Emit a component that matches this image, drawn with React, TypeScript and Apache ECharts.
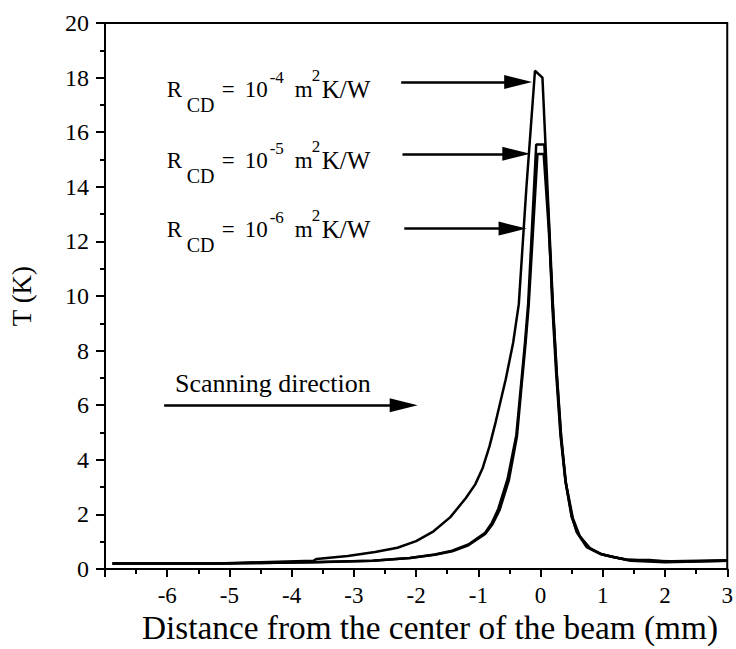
import React, { useEffect, useRef } from "react";
import * as echarts from "echarts";

const SERIF = "Liberation Serif";

// Tick labels
const xTicks = [-6, -5, -4, -3, -2, -1, 0, 1, 2, 3];
const yTicks = [0, 2, 4, 6, 8, 10, 12, 14, 16, 18, 20];

// Curve R_CD = 1e-4 m2K/W
const rcd4: number[][] = [
  [-6.88, 0.2], [-5.2, 0.2], [-4.5, 0.25], [-3.65, 0.3], [-3.6, 0.37], [-3.1, 0.48],
  [-2.66, 0.62], [-2.3, 0.78], [-2.0, 1.02], [-1.72, 1.38], [-1.45, 1.9], [-1.2, 2.6],
  [-1.05, 3.1], [-0.93, 3.7], [-0.82, 4.5], [-0.72, 5.4], [-0.56, 6.95], [-0.44, 8.3],
  [-0.35, 9.7], [-0.23, 13.9], [-0.09, 18.25], [0.03, 18.0], [0.12, 13.5], [0.2, 9.6],
  [0.26, 7.2], [0.33, 4.9], [0.4, 3.25], [0.5, 1.95], [0.58, 1.35], [0.74, 0.8],
  [0.95, 0.56], [1.2, 0.42], [1.4, 0.33], [1.75, 0.33], [2.05, 0.27], [3.0, 0.3],
];

// Curve R_CD = 1e-5 m2K/W
const rcd5: number[][] = [
  [-6.88, 0.2], [-5.2, 0.2], [-4.5, 0.22], [-3.6, 0.26], [-2.7, 0.3], [-2.1, 0.4],
  [-1.7, 0.53], [-1.42, 0.67], [-1.16, 0.9], [-0.89, 1.33], [-0.78, 1.7], [-0.68, 2.2],
  [-0.53, 3.3], [-0.39, 4.9], [-0.32, 6.6], [-0.25, 8.3], [-0.2, 9.7], [-0.07, 15.55],
  [0.06, 15.55], [0.13, 12.8], [0.19, 9.6], [0.25, 7.2], [0.32, 4.9], [0.4, 3.2],
  [0.5, 1.9], [0.6, 1.3], [0.76, 0.8], [0.97, 0.55], [1.2, 0.42], [1.38, 0.35],
  [1.7, 0.3], [2.1, 0.28], [3.0, 0.32],
];

// Curve R_CD = 1e-6 m2K/W
const rcd6: number[][] = [
  [-6.88, 0.2], [-5.2, 0.2], [-4.5, 0.22], [-3.6, 0.25], [-2.7, 0.3], [-2.1, 0.4],
  [-1.7, 0.52], [-1.42, 0.65], [-1.16, 0.87], [-0.89, 1.28], [-0.77, 1.65], [-0.66, 2.15],
  [-0.51, 3.25], [-0.38, 4.85], [-0.31, 6.6], [-0.24, 8.3], [-0.19, 9.7], [-0.05, 15.2],
  [0.05, 15.2], [0.13, 12.5], [0.2, 9.5], [0.26, 7.1], [0.33, 4.8], [0.41, 3.1],
  [0.52, 1.85], [0.63, 1.2], [0.8, 0.75], [1.0, 0.52], [1.25, 0.4], [1.45, 0.3],
  [2.0, 0.25], [3.0, 0.3],
];

// Arrow annotations (data coordinates: start, end)
const arrowLabels = ["-4", "-5", "-6"];
const arrows: number[][][] = [
  [[-2.24, 17.84], [-0.36, 17.84]],
  [[-2.22, 15.21], [-0.39, 15.21]],
  [[-2.19, 12.47], [-0.45, 12.47]],
  [[-6.05, 6.0], [-2.2, 6.0]],
];

function txt(t: string, x: number, y: number, size: number) {
  return {
    type: "text",
    x,
    y,
    silent: true,
    style: {
      text: t,
      fill: "#000",
      fontSize: size,
      fontFamily: SERIF,
      align: "left",
      verticalAlign: "middle",
    },
  };
}

function rowLabel(exp: string, x0: number, y: number) {
  return [
    txt("R", x0, y, 23),
    txt("CD", x0 + 20, y + 16, 20),
    txt("=", x0 + 55, y, 23),
    txt("10", x0 + 78, y, 23),
    txt(exp, x0 + 103, y - 11.5, 17),
    txt("m", x0 + 128, y, 23),
    txt("2", x0 + 145, y - 14, 17),
    txt("K/W", x0 + 155, y, 25),
  ];
}

export default function App() {
  const ref = useRef<HTMLDivElement>(null);
  useEffect(() => {
    document.body.style.margin = "0";
    if (!ref.current) return;
    const chart = echarts.init(ref.current, null, { renderer: "svg" });
    const rowY = [89, 160, 229];
    const graphics: any[] = [];
    arrowLabels.forEach((e, i) => graphics.push(...rowLabel(e, 166.7, rowY[i])));
    graphics.push(txt("Scanning direction", 175, 383, 26));
    graphics.push(txt("Distance from the center of the beam (mm)", 142, 627, 33.3));

    const lineStyle = { color: "#000", width: 2.5 };
    const mk = (d: number[][]) => ({
      type: "line",
      data: d,
      showSymbol: false,
      symbol: "none",
      lineStyle,
      silent: true,
    });

    chart.setOption({
      animation: false,
      backgroundColor: "#fff",
      grid: {
        left: 95,
        right: 7,
        top: 23,
        bottom: 80,
        show: true,
        borderColor: "#000",
        borderWidth: 2,
        containLabel: false,
      },
      xAxis: {
        type: "value",
        min: -7,
        max: 3,
        interval: 1,
        axisLine: { show: true, onZero: false, lineStyle: { color: "#000", width: 2 } },
        axisTick: { show: true, length: 8, lineStyle: { color: "#000", width: 2 } },
        minorTick: { show: true, splitNumber: 2, length: 5, lineStyle: { color: "#000", width: 2 } },
        splitLine: { show: false },
        axisLabel: {
          showMinLabel: false,
          showMaxLabel: true,
          hideOverlap: false,
          color: "#000",
          fontFamily: SERIF,
          fontSize: 23,
          margin: 15,
          formatter: (v: number) => (xTicks.includes(v) ? String(v) : ""),
        },
      },
      yAxis: {
        type: "value",
        min: 0,
        max: 20,
        interval: 2,
        name: "T (K)",
        nameLocation: "middle",
        nameGap: 70,
        nameRotate: 90,
        nameTextStyle: { color: "#000", fontFamily: SERIF, fontSize: 27 },
        axisLine: { show: true, onZero: false, lineStyle: { color: "#000", width: 2 } },
        axisTick: { show: true, length: 9, lineStyle: { color: "#000", width: 2 } },
        minorTick: { show: true, splitNumber: 2, length: 5, lineStyle: { color: "#000", width: 2 } },
        splitLine: { show: false },
        axisLabel: {
          color: "#000",
          fontFamily: SERIF,
          fontSize: 24,
          margin: 16,
          formatter: (v: number) => (yTicks.includes(v) ? String(v) : ""),
        },
      },
      series: [
        {
          ...mk(rcd4),
          markLine: {
            silent: true,
            symbol: ["none", "triangle"],
            symbolSize: [14, 28],
            lineStyle: { color: "#000", width: 2.5, type: "solid" },
            label: { show: false },
            data: arrows.map((a) => [{ coord: a[0] }, { coord: a[1] }]),
          },
        },
        mk(rcd5),
        mk(rcd6),
      ],
      graphic: graphics,
    });
    return () => chart.dispose();
  }, []);
  return <div ref={ref} style={{ width: 736, height: 649 }} />;
}
